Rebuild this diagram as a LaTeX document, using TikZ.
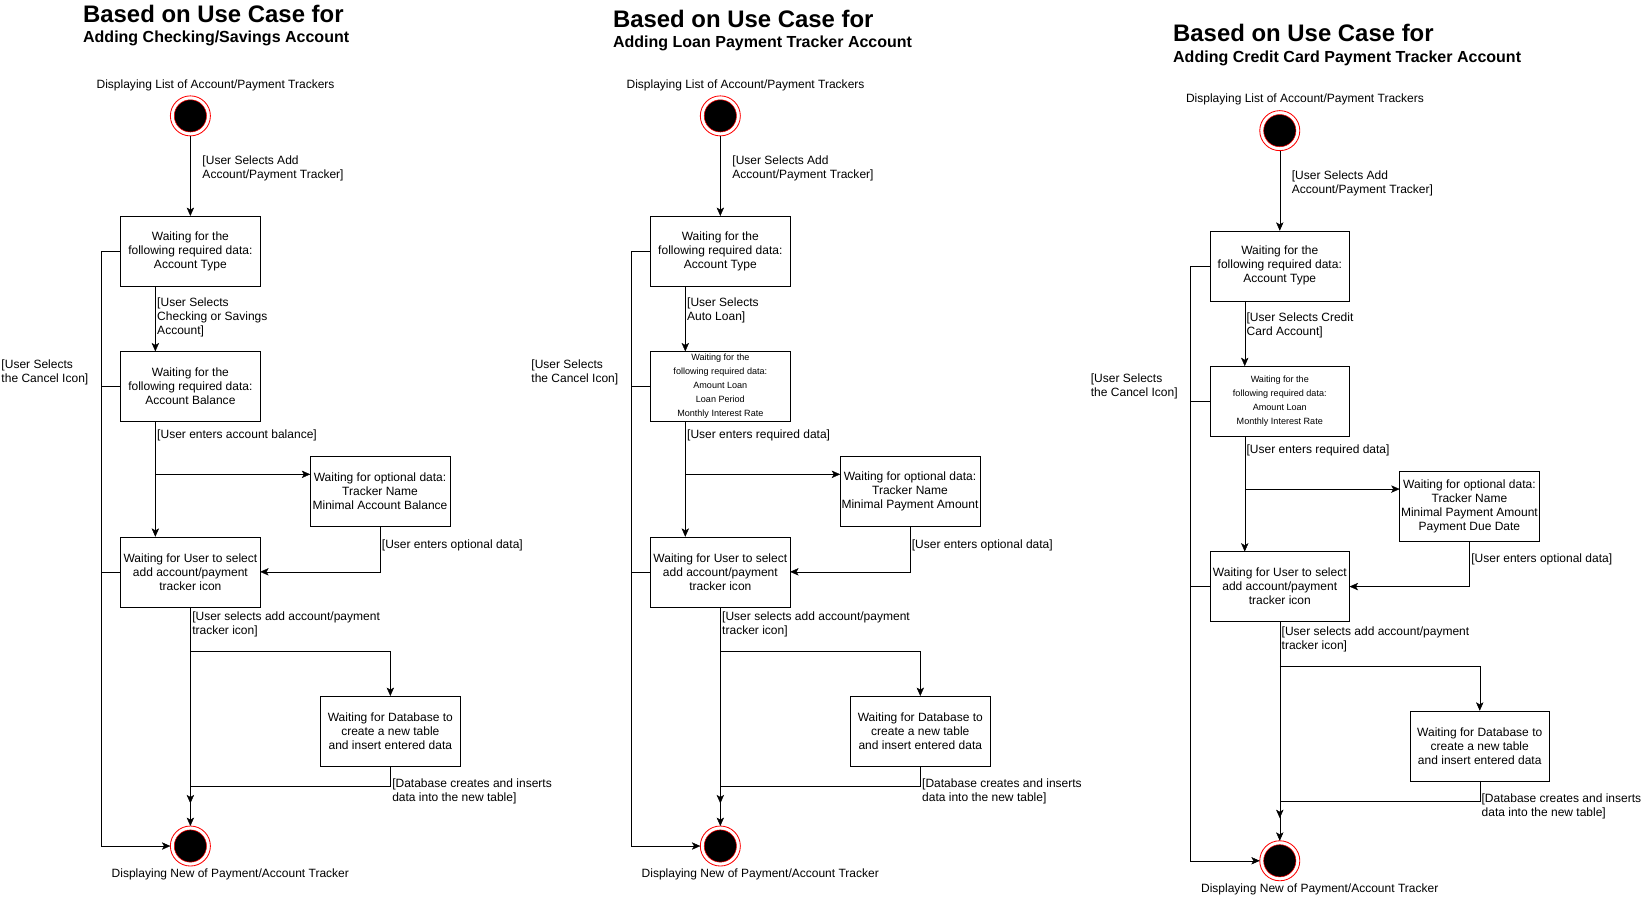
\documentclass[tikz,border=0pt]{standalone}
\usepackage{fontspec}
\setmainfont{Liberation Sans}
\usetikzlibrary{arrows.meta, positioning, calc}

\newcommand{\txtbody}{\fontsize{11.4}{13.3}\selectfont}
\newcommand{\txtsmall}{\fontsize{8.6}{13.3}\selectfont}
\newcommand{\txthead}{\fontsize{22.7}{26}\selectfont\bfseries}
\newcommand{\txtsub}{\fontsize{15.2}{18}\selectfont\bfseries}

\tikzset{
  waitbox/.style    = {draw, rectangle, outer sep=0pt,
                       minimum width=132.5pt, minimum height=66.5pt,
                       inner xsep=1pt, inner ysep=1pt,
                       align=center, font=\txtbody},
  smallbox/.style   = {waitbox, font=\txtsmall},
  terminal/.style   = {circle, draw=red, line width=0.8pt, fill=white,
                       minimum size=38pt, inner sep=0pt, outer sep=0pt,
                       path picture={\draw[red, line width=0.5pt, fill=black]
                         (path picture bounding box.center) circle (15.3pt);}},
  guard/.style      = {font=\txtbody, align=left, inner sep=0pt,
                       anchor=west, xshift=1.6pt},
  caption/.style    = {font=\txtbody, inner sep=0pt},
  heading/.style    = {font=\txthead, inner sep=0pt, anchor=west},
  subheading/.style = {font=\txtsub, inner sep=0pt, anchor=west},
  >={Stealth[length=8pt, width=7pt, inset=2pt]}, line width=1pt
}

\begin{document}
\begin{tikzpicture}[x=1pt, y=-1pt]

  \useasboundingbox (0,0) rectangle (1568,857);

  %%──────────────────────────────────────────────────────────────────────────
  %%  PANEL A  :  CHECKING / SAVINGS ACCOUNT
  %%──────────────────────────────────────────────────────────────────────────
  \node[heading]    (hA)  at (78.7,13.5) {Based on Use Case for};
  \node[subheading] (hsA) at (78.7,36.5) {Adding Checking/Savings Account};

  \node[terminal]                                      (sA) at (180.7,110) {};
  \node[waitbox,  below=76pt of sA]                    (tA)
        {Waiting for the\\following required data:\\Account Type};
  \node[waitbox,  below=62pt of tA]                    (bA)
        {Waiting for the\\following required data:\\Account Balance};
  \node[waitbox,  below right=33.4pt and 47.5pt of bA] (oA)
        {Waiting for optional data:\\Tracker Name\\Minimal Account Balance};
  \node[waitbox,  below=109.5pt of bA]                 (wA)
        {Waiting for User to select\\add account/payment\\tracker icon};
  \node[waitbox,  below right=84.6pt and 57.3pt of wA] (dA)
        {Waiting for Database to\\create a new table\\and insert entered data};
  \node[terminal, below=208pt of wA]                   (eA) {};

  \node[caption] (lsA) at ($(sA)+(23.9,-29.3)$) {Displaying List of Account/Payment Trackers};
  \node[caption] (leA) at ($(eA)+(37.9,26.9)$)  {Displaying New of Payment/Account Tracker};

  \coordinate (jA) at ($(bA.-135)+(0,50.2)$);   %% branch to optional data
  \coordinate (kA) at ($(wA.south)+(0,41.9)$);  %% branch to database
  \coordinate (mA) at ($(wA.south)+(0,170)$);
  \coordinate (nA) at ($(wA.south)+(0,186.5)$);
  \coordinate[left=18.7pt of tA] (cA);          %% cancel trunk

  \draw[->] (sA) -- node[guard, pos=0.41, xshift=9.7pt]
        {[User Selects Add\\Account/Payment Tracker]} (tA);
  \draw[->] (tA.-135) -- node[guard, pos=0.482]
        {[User Selects\\Checking or Savings\\Account]} (tA.-135 |- bA.north);
  \draw[->] (bA.-135) -- node[guard, pos=0.123]
        {[User enters account balance]} (bA.-135 |- wA.north);
  \draw[->] (jA) -- (jA -| oA.west);
  \draw[->] (oA.south) |- node[guard, pos=0.203]
        {[User enters optional data]} (wA.east);
  \draw[->] (wA) -- node[guard, pos=0.082]
        {[User selects add account/payment\\tracker icon]} (eA);
  \draw[->] (kA) -| (dA.north);
  \draw[->] (dA.south) |- node[guard, pos=0.5, yshift=-5.4pt]
        {[Database creates and inserts\\data into the new table]} (mA) -- (nA);
  \draw[->] (tA.west) -- (cA) |- node[guard, pos=0.1016, anchor=east, xshift=-13.35pt]
        {[User Selects\\the Cancel Icon]} (eA.west);
  \draw (bA.west) -- (bA.west -| cA);
  \draw (wA.west) -- (wA.west -| cA);

  %%──────────────────────────────────────────────────────────────────────────
  %%  PANEL B  :  LOAN PAYMENT TRACKER
  %%──────────────────────────────────────────────────────────────────────────
  \begin{scope}[shift={(503,0)}]
  \node[heading]    (hB)  at (78.7,18.2) {Based on Use Case for};
  \node[subheading] (hsB) at (78.7,41.1) {Adding Loan Payment Tracker Account};

  \node[terminal]                                      (sB) at (180.7,110) {};
  \node[waitbox,  below=76pt of sB]                    (tB)
        {Waiting for the\\following required data:\\Account Type};
  \node[smallbox, below=62pt of tB]                    (bB)
        {Waiting for the\\following required data:\\Amount Loan\\Loan Period\\Monthly Interest Rate};
  \node[waitbox,  below right=33.4pt and 47.5pt of bB] (oB)
        {Waiting for optional data:\\Tracker Name\\Minimal Payment Amount};
  \node[waitbox,  below=109.5pt of bB]                 (wB)
        {Waiting for User to select\\add account/payment\\tracker icon};
  \node[waitbox,  below right=84.6pt and 57.3pt of wB] (dB)
        {Waiting for Database to\\create a new table\\and insert entered data};
  \node[terminal, below=208pt of wB]                   (eB) {};

  \node[caption] (lsB) at ($(sB)+(23.9,-29.3)$) {Displaying List of Account/Payment Trackers};
  \node[caption] (leB) at ($(eB)+(37.9,26.9)$)  {Displaying New of Payment/Account Tracker};

  \coordinate (jB) at ($(bB.-135)+(0,50.2)$);
  \coordinate (kB) at ($(wB.south)+(0,41.9)$);
  \coordinate (mB) at ($(wB.south)+(0,170)$);
  \coordinate (nB) at ($(wB.south)+(0,186.5)$);
  \coordinate[left=18.7pt of tB] (cB);

  \draw[->] (sB) -- node[guard, pos=0.41, xshift=9.7pt]
        {[User Selects Add\\Account/Payment Tracker]} (tB);
  \draw[->] (tB.-135) -- node[guard, pos=0.379]
        {[User Selects\\Auto Loan]} (tB.-135 |- bB.north);
  \draw[->] (bB.-135) -- node[guard, pos=0.123]
        {[User enters required data]} (bB.-135 |- wB.north);
  \draw[->] (jB) -- (jB -| oB.west);
  \draw[->] (oB.south) |- node[guard, pos=0.203]
        {[User enters optional data]} (wB.east);
  \draw[->] (wB) -- node[guard, pos=0.082]
        {[User selects add account/payment\\tracker icon]} (eB);
  \draw[->] (kB) -| (dB.north);
  \draw[->] (dB.south) |- node[guard, pos=0.5, yshift=-5.4pt]
        {[Database creates and inserts\\data into the new table]} (mB) -- (nB);
  \draw[->] (tB.west) -- (cB) |- node[guard, pos=0.1016, anchor=east, xshift=-13.35pt]
        {[User Selects\\the Cancel Icon]} (eB.west);
  \draw (bB.west) -- (bB.west -| cB);
  \draw (wB.west) -- (wB.west -| cB);
  \end{scope}

  %%──────────────────────────────────────────────────────────────────────────
  %%  PANEL C  :  CREDIT CARD PAYMENT TRACKER
  %%──────────────────────────────────────────────────────────────────────────
  \begin{scope}[shift={(1034,14)}]
  \node[heading]    (hC)  at (79.3,17.6) {Based on Use Case for};
  \node[subheading] (hsC) at (79.3,41.4) {Adding Credit Card Payment Tracker Account};

  \node[terminal]                                      (sC) at (180.7,110) {};
  \node[waitbox,  below=76pt of sC]                    (tC)
        {Waiting for the\\following required data:\\Account Type};
  \node[smallbox, below=62pt of tC]                    (bC)
        {Waiting for the\\following required data:\\Amount Loan\\Monthly Interest Rate};
  \node[waitbox,  below right=33.4pt and 47.5pt of bC] (oC)
        {Waiting for optional data:\\Tracker Name\\Minimal Payment Amount\\Payment Due Date};
  \node[waitbox,  below=109.5pt of bC]                 (wC)
        {Waiting for User to select\\add account/payment\\tracker icon};
  \node[waitbox,  below right=84.6pt and 57.3pt of wC] (dC)
        {Waiting for Database to\\create a new table\\and insert entered data};
  \node[terminal, below=208pt of wC]                   (eC) {};

  \node[caption] (lsC) at ($(sC)+(23.9,-29.3)$) {Displaying List of Account/Payment Trackers};
  \node[caption] (leC) at ($(eC)+(37.9,26.9)$)  {Displaying New of Payment/Account Tracker};

  \coordinate (jC) at ($(bC.-135)+(0,50.2)$);
  \coordinate (kC) at ($(wC.south)+(0,41.9)$);
  \coordinate (mC) at ($(wC.south)+(0,170)$);
  \coordinate (nC) at ($(wC.south)+(0,186.5)$);
  \coordinate[left=18.7pt of tC] (cC);

  \draw[->] (sC) -- node[guard, pos=0.41, xshift=9.7pt]
        {[User Selects Add\\Account/Payment Tracker]} (tC);
  \draw[->] (tC.-135) -- node[guard, pos=0.384]
        {[User Selects Credit\\Card Account]} (tC.-135 |- bC.north);
  \draw[->] (bC.-135) -- node[guard, pos=0.123]
        {[User enters required data]} (bC.-135 |- wC.north);
  \draw[->] (jC) -- (jC -| oC.west);
  \draw[->] (oC.south) |- node[guard, pos=0.203]
        {[User enters optional data]} (wC.east);
  \draw[->] (wC) -- node[guard, pos=0.082]
        {[User selects add account/payment\\tracker icon]} (eC);
  \draw[->] (kC) -| (dC.north);
  \draw[->] (dC.south) |- node[guard, pos=0.5, yshift=-5.4pt]
        {[Database creates and inserts\\data into the new table]} (mC) -- (nC);
  \draw[->] (tC.west) -- (cC) |- node[guard, pos=0.1016, anchor=east, xshift=-13.35pt]
        {[User Selects\\the Cancel Icon]} (eC.west);
  \draw (bC.west) -- (bC.west -| cC);
  \draw (wC.west) -- (wC.west -| cC);
  \end{scope}

\end{tikzpicture}
\end{document}
